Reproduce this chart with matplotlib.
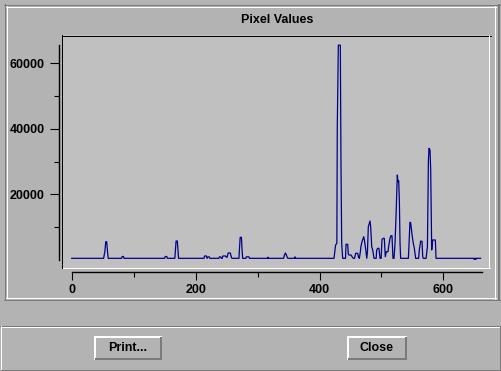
import matplotlib
matplotlib.use("Agg")
import matplotlib.pyplot as plt
from matplotlib.lines import Line2D
from matplotlib.patches import Rectangle

# profile: pixel position -> count
B = 450
pixel_index = [
    0, 51.5, 53.5, 55, 56.5, 58, 59,
    80.5, 81.5, 83.5, 84.5,
    150, 151, 153.5, 154.5,
    166.5, 167.5, 168.5, 170.5, 171.5, 172.5,
    213.5, 214.5, 217.5, 218.5, 220, 222, 223,
    237.5, 238.5, 240.5, 241.5,
    243, 244, 248.5, 249.5, 251, 252.5, 256, 258, 259,
    270, 271, 272, 274, 275, 276,
    281, 282, 286, 287,
    316.5, 317, 317.5,
    342, 343.5, 345, 346.5, 348, 349,
    360, 360.5, 361.5,
    423.4, 426, 428, 428.7, 430.4, 433.6, 434.7, 435.8, 437.4,
    442, 442.8, 445.5, 446.5, 447.5, 451, 453, 454.6, 456.5, 458.4, 461.6, 463, 464.3,
    466, 467, 468.6, 471.4, 472.5, 474.7, 476.3, 477.4, 478.8, 481.5, 482.6, 484.3,
    485.9, 488, 491.5, 492.3, 494, 496, 497.7, 499.5, 500.9, 503, 504.6, 506.2,
    507.8, 510.5, 511.6, 513.8, 515.4, 517, 518.6, 520.3, 521.9, 523.5, 525.6,
    526.7, 527.8, 528.9, 530, 531,
    543.5, 544.5, 546, 547.1, 548.2, 549.8, 551.4, 553.1, 555.2,
    560, 561.1, 563.3, 565.5, 566.6, 567.6,
    572, 574.2, 575.8, 576.8, 578.4, 579.5, 581.1, 582.7, 587, 588.1,
    649, 649.5, 650.5, 651, 652, 652.5, 653, 660,
]
pixel_count = [
    B, B, 2500, 5530, 5530, 2000, B,
    B, 1000, 1000, B,
    B, 1000, 1000, B,
    B, 3000, 5740, 5740, 3000, B,
    B, 1160, 1160, B, 900, 900, B,
    B, 900, 900, B,
    B, 1160, 1160, 800, 800, 2080, 2080, 600, B,
    B, 4000, 6870, 6870, 3000, B,
    B, 900, 900, B,
    B, 800, B,
    B, 1500, 2080, 1500, 700, B,
    B, 900, B,
    B, 4520, 5040, 40600, 65535, 65535, 28730, 5040, B,
    B, 4730, 4730, 1770, 1460, 1460, 800, B, B, 1980, 1980, 800, B,
    2500, 4210, 5530, 7050, 6045, 2990, B, 2470, 10100, 11850, 10100, 4010,
    2990, B, B, 2990, 3500, 3500, B, B, 6250, 6560, 6560, 950,
    2470, 2470, 4010, 6560, 7360, 7360, B, B, 5040, 13160, 25890,
    23850, 24200, 18260, 5040, B,
    B, 5040, 11450, 11350, 9610, 7050, 5040, 3500, B,
    B, 2990, 5740, 5600, 950, B,
    B, 4010, 30470, 34040, 33500, 27420, 2990, 6045, 6045, B,
    B, 150, 150, B, B, 150, B, B,
]
x_major = [0, 200, 400, 600]
x_minor = [100, 300, 500]
y_major = [20000, 40000, 60000]
y_minor = [10000, 30000, 50000]

W, H = 502, 371
BG = "#b3b3b3"
PLOT_BG = "#c0c0c0"
DARK = "#7a7a7a"
FONT = dict(family="Liberation Sans", weight="bold", size=9)

fig = plt.figure(figsize=(W / 100, H / 100), dpi=100)
fig.patch.set_facecolor(BG)


def hline(y, x0, x1, color, lw=1.0):
    fig.add_artist(Line2D([x0 / W, x1 / W], [1 - y / H, 1 - y / H],
                          transform=fig.transFigure, color=color, lw=lw * 0.72,
                          solid_capstyle="butt", antialiased=False))


def vline(x, y0, y1, color, lw=1.0):
    fig.add_artist(Line2D([x / W, x / W], [1 - y0 / H, 1 - y1 / H],
                          transform=fig.transFigure, color=color, lw=lw * 0.72,
                          solid_capstyle="butt", antialiased=False))


# top frame (etched)
hline(4.5, 4, 500, DARK); vline(4.5, 4, 300, DARK)
hline(6.5, 6, 496, "white"); vline(6.5, 6, 298, "white")
vline(495.5, 6, 298.5, "white"); hline(298, 6, 496, "white")
vline(499, 4, 300, DARK, 2); hline(299.5, 4, 500, DARK)

# button panel
hline(325.5, 0, 502, DARK); hline(326.5, 1, 501, "white")
vline(1.5, 326, 370, "white")
hline(369.5, 1, 502, DARK); vline(500.5, 326, 370, DARK)

# plot area box
box_l, box_t, box_r, box_b = 62, 35, 490, 268
ax = fig.add_axes([box_l / W, 1 - box_b / H, (box_r - box_l) / W, (box_b - box_t) / H])
ax.set_facecolor(PLOT_BG)

# axis mapping (pixels of the screen)
x0_px, xs = 71.7, 0.6195
y0_px, ys = 259.8, 305.3
ax.set_xlim((box_l - x0_px) / xs, (box_r - x0_px) / xs)
ax.set_ylim((y0_px - box_b) * ys, (y0_px - box_t) * ys)

ax.plot(pixel_index, pixel_count, color="#00008b", lw=0.9)

for s in ("top", "right"):
    ax.spines[s].set_visible(False)
ax.spines["left"].set_position(("outward", 3.3 * 0.72))
ax.spines["bottom"].set_position(("outward", 4.3 * 0.72))
ax.spines["left"].set_bounds(0, 65535)
ax.spines["bottom"].set_bounds(0, 662)
for s in ("left", "bottom"):
    ax.spines[s].set_linewidth(1.0)
    ax.spines[s].set_color("black")

ax.set_xticks(x_major)
ax.set_xticks(x_minor, minor=True)
ax.set_yticks(y_major)
ax.set_yticks(y_minor, minor=True)
ax.tick_params(axis="y", which="major", length=8.7 * 0.72, width=0.8, pad=5 * 0.72)
ax.tick_params(axis="y", which="minor", length=5.3 * 0.72, width=0.8)
ax.tick_params(axis="x", which="major", length=8.4 * 0.72, width=0.8, pad=3.3 * 0.72)
ax.tick_params(axis="x", which="minor", length=5.3 * 0.72, width=0.8)
for lab in ax.get_xticklabels() + ax.get_yticklabels():
    lab.set_fontfamily(FONT["family"])
    lab.set_fontweight("bold")
    lab.set_fontsize(9)

# sunken border of the plot box
hline(box_t + 0.5, box_l, box_r + 1, "black")
vline(box_l + 0.5, box_t, box_b, "black")
vline(box_r - 0.5, box_t + 1, box_b, "white")
hline(box_b - 0.5, box_l + 1, box_r, "white")

fig.text(276.7 / W, 1 - 20 / H, "Pixel Values", ha="center", va="center", **FONT)


def button(x0, y0, x1, y1, label):
    fig.add_artist(Rectangle((x0 / W, 1 - y1 / H), (x1 - x0) / W, (y1 - y0) / H,
                             transform=fig.transFigure, facecolor=BG, edgecolor="none"))
    hline(y0 + 1, x0, x1, "white", 2)
    vline(x0 + 1, y0, y1, "white", 2)
    hline(y1 - 1, x0 + 1, x1, DARK, 2)
    vline(x1 - 1, y0 + 1, y1, DARK, 2)
    fig.text((x0 + x1) / 2 / W, 1 - (y0 + y1) / 2 / H, label,
             ha="center", va="center", **FONT)


button(94.3, 335.7, 161.7, 360, "Print...")
button(347.3, 335.7, 406.7, 360, "Close")

fig.savefig("out.png", dpi=100, facecolor=BG)
